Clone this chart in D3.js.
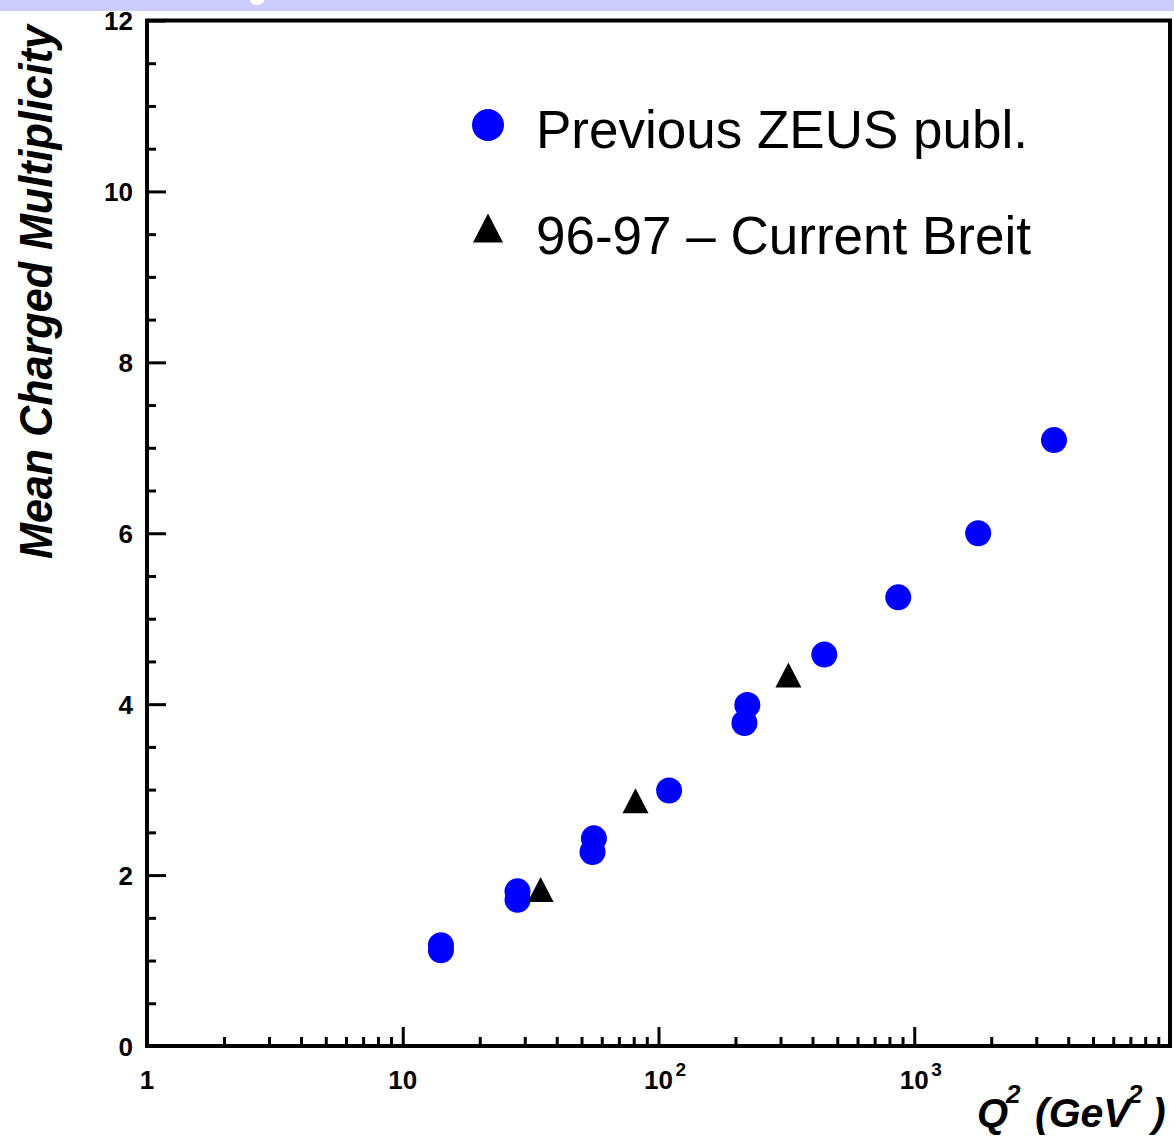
<!DOCTYPE html>
<html>
<head>
<meta charset="utf-8">
<script src="https://cdn.jsdelivr.net/npm/d3@7"></script>
<style>
  html, body { margin: 0; padding: 0; background: #ffffff; }
  svg { display: block; }
</style>
</head>
<body>
<div id="chart"></div>
<script>
// ---- data ----
const zeusQ2   = [14.1, 14.1, 28.1, 28.1, 55.9, 55.2, 110, 222.5, 216.8, 445, 866, 1778, 3520];
const zeusMult = [1.18, 1.12, 1.81, 1.71, 2.43, 2.27, 2.99, 3.99, 3.78, 4.58, 5.25, 6.00, 7.09];
const breitQ2   = [34.6, 81.3, 322];
const breitMult = [1.83, 2.87, 4.34];
const legendLabels = ["Previous ZEUS publ.", "96-97 \u2013 Current Breit"];
const yMajorTicks = [0, 2, 4, 6, 8, 10, 12];
const xMajorTicks = [1, 10, 100, 1000];
const xTickBase = ["1", "10", "10", "10"];
const xTickExp  = ["", "", "2", "3"];
const yTitle = "Mean Charged Multiplicity";

// ---- layout ----
const W = 1174, H = 1137;
const svg = d3.select("#chart").append("svg").attr("width", W).attr("height", H);
svg.append("rect").attr("x",0).attr("y",0).attr("width",W).attr("height",H).attr("fill","#fff");
// top band
svg.append("rect").attr("x",0).attr("y",0).attr("width",W).attr("height",11).attr("fill","#ccccff");
svg.append("ellipse").attr("cx",257).attr("cy",0).attr("rx",7).attr("ry",5).attr("fill","#fff");

const x = d3.scaleLog().domain([1, 1e4]).range([147, 1170]);
const y = d3.scaleLinear().domain([0, 12]).range([1046, 20.5]);

const font = "Liberation Sans, Arial, Helvetica, sans-serif";

// minor ticks
const yMinor = d3.range(0, 12.01, 0.5).filter(v => Math.abs(v % 2) > 1e-9);
const xMinor = [];
for (let d = 1; d < 1e4; d *= 10) for (let m = 2; m <= 9; m++) xMinor.push(d * m);

function styleAxis(g) {
  g.select(".domain").remove();
  g.selectAll(".tick line").attr("stroke", "#000").attr("stroke-width", 3);
}

svg.append("g").attr("transform", `translate(${x(1)},0)`)
  .call(d3.axisLeft(y).tickValues(yMinor).tickSize(-9).tickFormat(""))
  .call(styleAxis);
const yAx = svg.append("g").attr("transform", `translate(${x(1)},0)`)
  .call(d3.axisLeft(y).tickValues(yMajorTicks).tickSize(-19).tickPadding(14).tickFormat(d3.format("d")))
  .call(styleAxis);
yAx.selectAll(".tick text").attr("font-family", font).attr("font-weight", "bold")
  .attr("font-size", 26).attr("fill", "#000").attr("dy", "0.36em");

svg.append("g").attr("transform", `translate(0,${y(0)})`)
  .call(d3.axisBottom(x).tickValues(xMinor).tickSize(-9).tickFormat(""))
  .call(styleAxis);
svg.append("g").attr("transform", `translate(0,${y(0)})`)
  .call(d3.axisBottom(x).tickValues(xMajorTicks).tickSize(-19).tickFormat(""))
  .call(styleAxis);

// x tick labels with superscripts
const xl = svg.append("g").attr("font-family", font).attr("font-weight", "bold").attr("fill", "#000");
xMajorTicks.forEach((v, i) => {
  xl.append("text").attr("x", x(v)).attr("y", 1089).attr("text-anchor", "middle")
    .attr("font-size", 26).text(xTickBase[i]);
  if (xTickExp[i]) {
    xl.append("text").attr("x", x(v) + 17).attr("y", 1076).attr("text-anchor", "start")
      .attr("font-size", 19).text(xTickExp[i]);
  }
});

// frame
svg.append("rect").attr("x", x(1)).attr("y", y(12)).attr("width", x(1e4) - x(1))
  .attr("height", y(0) - y(12)).attr("fill", "none").attr("stroke", "#000").attr("stroke-width", 4);

// data: circles
svg.append("g").selectAll("circle").data(zeusQ2.map((q, i) => [q, zeusMult[i]])).join("circle")
  .attr("cx", d => x(d[0])).attr("cy", d => y(d[1])).attr("r", 13).attr("fill", "#0000ff");

// data: triangles
function tri(w, h) { return `M0,${-h/2}L${w/2},${h/2}L${-w/2},${h/2}Z`; }
svg.append("g").selectAll("path").data(breitQ2.map((q, i) => [q, breitMult[i]])).join("path")
  .attr("transform", d => `translate(${x(d[0])},${y(d[1])})`)
  .attr("d", tri(26, 25)).attr("fill", "#000");

// legend
svg.append("circle").attr("cx", 488).attr("cy", 125).attr("r", 16).attr("fill", "#0000ff");
svg.append("path").attr("transform", "translate(488,228)").attr("d", tri(30, 29)).attr("fill", "#000");
svg.append("text").attr("x", 536).attr("y", 148).attr("font-family", font).attr("font-size", 53)
  .attr("fill", "#000").text(legendLabels[0]);
svg.append("text").attr("x", 536).attr("y", 254).attr("font-family", font).attr("font-size", 53)
  .attr("fill", "#000").text(legendLabels[1]);

// y title
svg.append("text").attr("transform", "translate(52,292) rotate(-90)")
  .attr("text-anchor", "middle").attr("font-family", font).attr("font-weight", "bold")
  .attr("font-style", "italic").attr("font-size", 46).attr("fill", "#000")
  .attr("textLength", 534).attr("lengthAdjust", "spacingAndGlyphs").text(yTitle);

// x title
const xt = svg.append("g").attr("font-family", font).attr("font-weight", "bold")
  .attr("font-style", "italic").attr("fill", "#000");
xt.append("text").attr("x", 977).attr("y", 1127).attr("font-size", 40).text("Q");
xt.append("text").attr("x", 1006).attr("y", 1103).attr("font-size", 26).text("2");
xt.append("text").attr("x", 1035).attr("y", 1127).attr("font-size", 41).text("(GeV");
xt.append("text").attr("x", 1128).attr("y", 1103).attr("font-size", 26).text("2");
xt.append("text").attr("x", 1152).attr("y", 1127).attr("font-size", 41).text(")");
</script>
</body>
</html>
